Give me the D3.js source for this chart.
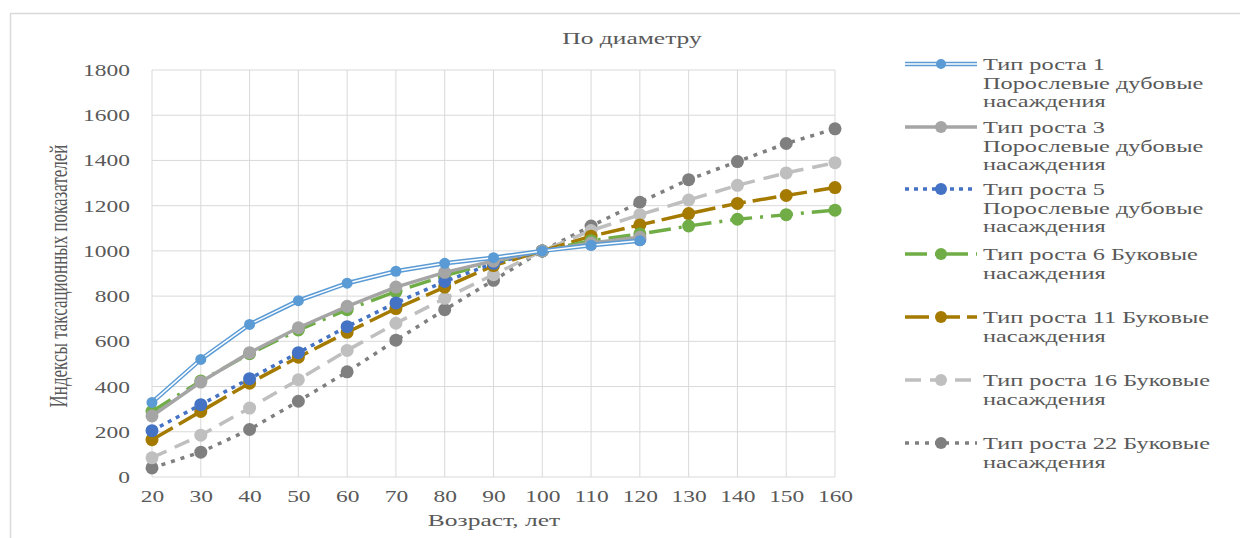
<!DOCTYPE html>
<html><head><meta charset="utf-8">
<script src="https://cdn.jsdelivr.net/npm/d3@7"></script>
<style>body{margin:0;background:#fff}svg{display:block}</style>
</head><body><svg id="c" width="1240" height="538"></svg>
<script>
const ages = [20,30,40,50,60,70,80,90,100,110,120,130,140,150,160];
const yTicks = [0,200,400,600,800,1000,1200,1400,1600,1800];
const names = [
  ["Тип роста 1","Порослевые дубовые","насаждения"],
  ["Тип роста 3","Порослевые дубовые","насаждения"],
  ["Тип роста 5","Порослевые дубовые","насаждения"],
  ["Тип роста 6 Буковые","насаждения"],
  ["Тип роста 11 Буковые","насаждения"],
  ["Тип роста 16 Буковые","насаждения"],
  ["Тип роста 22 Буковые","насаждения"]
];
const s1  = [330,520,675,780,857,910,945,970,1000,1025,1045];
const s3  = [270,420,550,660,755,840,905,955,1000,1035,1060];
const s5  = [205,320,435,550,665,770,865,945,1000,1030,1050];
const s6  = [290,425,545,650,740,820,890,950,1000,1045,1075,1110,1140,1160,1180];
const s11 = [165,290,415,530,640,745,840,935,1000,1065,1115,1165,1210,1245,1280];
const s16 = [85,185,305,430,560,680,790,895,1000,1090,1160,1225,1290,1345,1390];
const s22 = [40,110,210,335,465,605,740,870,1000,1110,1215,1315,1395,1475,1540];
const seriesVals = [s1,s3,s5,s6,s11,s16,s22];
const colors = ["#5B9BD5","#A5A5A5","#4472C4","#70AD47","#A47A00","#BFBFBF","#7F7F7F"];
const dashes = [null,null,"4,5","22,8,3,8","24,7","16,9","4,6"];

const FONT = '"Liberation Serif","Times New Roman",serif';
const SX = 1.5, SXL = 1.43, SXT = 1.38, FS = 17, TXT = "#595959";
const styleText = sel => sel.style("font-family",FONT).style("font-size",FS+"px").style("fill",TXT);

const svg = d3.select("#c");
svg.append("rect").attr("x",10.5).attr("y",13.5).attr("width",1240).attr("height",540)
  .attr("fill","#fff").attr("stroke","#D9D9D9").attr("stroke-width",1.5);

const L=152,R=835,T=70,B=477;
const x = d3.scaleLinear().domain([20,160]).range([L,R]);
const y = d3.scaleLinear().domain([0,1800]).range([B,T]);

// grid
const g = svg.append("g");
g.selectAll(".gy").data(yTicks).join("line").attr("x1",L).attr("x2",R)
  .attr("y1",d=>y(d)).attr("y2",d=>y(d)).attr("stroke","#D9D9D9").attr("stroke-width",1);
g.selectAll(".gx").data(ages).join("line").attr("y1",T).attr("y2",B)
  .attr("x1",d=>x(d)).attr("x2",d=>x(d)).attr("stroke","#D9D9D9").attr("stroke-width",1);

// axes via d3
const ya = svg.append("g").attr("transform",`translate(${L},0)`)
  .call(d3.axisLeft(y).tickValues(yTicks).tickFormat(d3.format("d")).tickSize(0));
ya.select(".domain").remove();
ya.selectAll("text").call(styleText).attr("x",0).attr("transform",`translate(-22,0) scale(${SXT},1)`);
const xa = svg.append("g").attr("transform",`translate(0,${B})`)
  .call(d3.axisBottom(x).tickValues(ages).tickFormat(d3.format("d")).tickSize(0));
xa.select(".domain").remove();
xa.selectAll("text").call(styleText).attr("y",0).attr("dy","0.71em").attr("transform",`translate(0,13) scale(${SXT},1)`);

// titles
svg.append("text").attr("transform",`translate(632,44) scale(${SX},1)`).attr("text-anchor","middle").call(styleText).text("По диаметру");
svg.append("text").attr("transform",`translate(494,526) scale(${SX},1)`).attr("text-anchor","middle").call(styleText).text("Возраст, лет");
svg.append("text").attr("transform",`translate(67,276) scale(${SX},1) rotate(-90)`).attr("text-anchor","middle").call(styleText).text("Индексы таксационных показателей");

const line = d3.line().x((d,i)=>x(ages[i])).y(d=>y(d));

// draw series
const drawOrder=[6,5,4,3,2,1,0];
drawOrder.forEach(k=>{
  const vals = seriesVals[k];
  const sg = svg.append("g");
  if(k===0){
    sg.append("path").attr("d",line(vals)).attr("fill","none").attr("stroke",colors[k]).attr("stroke-width",4.5);
    sg.append("path").attr("d",line(vals)).attr("fill","none").attr("stroke","#fff").attr("stroke-width",1.5);
  } else {
    sg.append("path").attr("d",line(vals)).attr("fill","none").attr("stroke",colors[k])
      .attr("stroke-width",3.5).attr("stroke-dasharray",dashes[k]);
  }
  sg.selectAll("circle").data(vals).join("circle")
    .attr("cx",(d,i)=>x(ages[i])).attr("cy",d=>y(d)).attr("r",k===0?5.5:6.5).attr("fill",colors[k]);
});

// legend
const legY=[64,127,189,254,317,380,443];
const lg = svg.append("g");
names.forEach((lines,k)=>{
  const cy=legY[k];
  const x1=905,x2=977,cx=941;
  if(k===0){
    lg.append("line").attr("x1",x1).attr("x2",x2).attr("y1",cy).attr("y2",cy).attr("stroke",colors[k]).attr("stroke-width",4.5);
    lg.append("line").attr("x1",x1).attr("x2",x2).attr("y1",cy).attr("y2",cy).attr("stroke","#fff").attr("stroke-width",1.5);
  } else {
    lg.append("line").attr("x1",x1).attr("x2",x2).attr("y1",cy).attr("y2",cy).attr("stroke",colors[k])
      .attr("stroke-width",3.5).attr("stroke-dasharray",dashes[k]);
  }
  lg.append("circle").attr("cx",cx).attr("cy",cy).attr("r",k===0?5:6).attr("fill",colors[k]);
  const t = lg.append("text").attr("transform",`translate(983,${cy+6}) scale(${SXL},1)`).call(styleText);
  lines.forEach((s,i)=>t.append("tspan").attr("x",0).attr("dy",i===0?0:18.7).text(s));
});
</script></body></html>
